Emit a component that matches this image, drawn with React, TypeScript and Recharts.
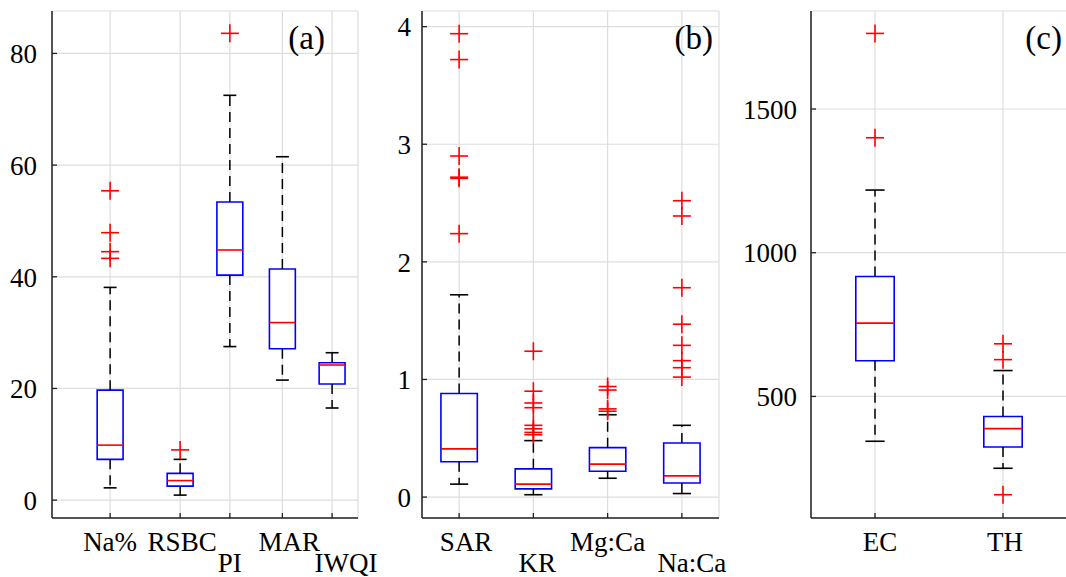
import React from 'react';
import { ComposedChart, XAxis, YAxis, CartesianGrid, ReferenceArea, ReferenceLine, Scatter } from 'recharts';

const FONT = 'Liberation Serif, Times New Roman, serif';

// ---------- Panel (a) ----------
const aCategories = ['Na%', 'RSBC', 'PI', 'MAR', 'IWQI'];
const aPositions = [1, 2, 2.71, 3.46, 4.17];
const aLow = [2.2, 0.9, 27.5, 21.5, 16.5];
const aQ1 = [7.3, 2.5, 40.3, 27.1, 20.8];
const aMedian = [9.85, 3.5, 44.8, 31.8, 24.2];
const aQ3 = [19.7, 4.8, 53.4, 41.4, 24.6];
const aHigh = [38.1, 7.3, 72.5, 61.5, 26.4];
const aOutliers = [[55.4, 47.9, 44.5, 43.3], [9.0], [83.6], [], []];
const aYTicks = [0, 20, 40, 60, 80];

// ---------- Panel (b) ----------
const bCategories = ['SAR', 'KR', 'Mg:Ca', 'Na:Ca'];
const bPositions = [1, 2, 3, 4];
const bLow = [0.11, 0.02, 0.16, 0.03];
const bQ1 = [0.3, 0.07, 0.22, 0.12];
const bMedian = [0.41, 0.11, 0.28, 0.18];
const bQ3 = [0.88, 0.24, 0.42, 0.46];
const bHigh = [1.72, 0.48, 0.7, 0.61];
const bOutliers = [
  [3.94, 3.72, 2.9, 2.72, 2.71, 2.24],
  [1.24, 0.9, 0.8, 0.76, 0.61, 0.58, 0.55, 0.53],
  [0.94, 0.91, 0.75, 0.73],
  [2.52, 2.39, 1.78, 1.47, 1.29, 1.16, 1.1, 1.02],
];
const bYTicks = [0, 1, 2, 3, 4];

// ---------- Panel (c) ----------
const cCategories = ['EC', 'TH'];
const cPositions = [1, 2];
const cLow = [344, 250];
const cQ1 = [624, 324];
const cMedian = [755, 388];
const cQ3 = [917, 430];
const cHigh = [1218, 590];
const cOutliers = [[1763, 1400], [683, 628, 158]];
const cYTicks = [500, 1000, 1500];

const FRAME = '#222';
const GRID = '#dedede';

type PanelProps = {
  categories: string[];
  positions: number[];
  low: number[];
  q1: number[];
  median: number[];
  q3: number[];
  high: number[];
  outliers: number[][];
  yTicks: number[];
  xDomain: [number, number];
  yDomain: [number, number];
  boxWidth: number;
  labelRows: number[];
  labelDx: number[];
  left: number;
  width: number;
  yAxisWidth: number;
  marginRight: number;
  tickGap: number;
  letter: string;
  letterX: number;
};

const textStyle = { fontFamily: FONT };

const Panel = (p: PanelProps) => {
  const height = 577;
  const outlierData: { x: number; y: number }[] = [];
  p.outliers.forEach((arr, i) => arr.forEach((v) => outlierData.push({ x: p.positions[i], y: v })));
  const hw = p.boxWidth / 2;
  const cw = p.boxWidth / 4;

  const LeftTick = (props: any) => {
    const { x, y, payload } = props;
    return (
      <g>
        <line x1={x + p.tickGap} x2={x + p.tickGap + 5} y1={y} y2={y} stroke={FRAME} strokeWidth={1.3} />
        <text x={x} y={y} dy="0.36em" textAnchor="end" style={textStyle} fontSize={27} fill="#000">
          {payload.value}
        </text>
      </g>
    );
  };
  const RightTick = (props: any) => {
    const { x, y } = props;
    return <line x1={x - 5} x2={x} y1={y} y2={y} stroke={FRAME} strokeWidth={1.3} />;
  };
  const TopTick = (props: any) => {
    const { x, y } = props;
    return <line x1={x} x2={x} y1={y} y2={y + 5} stroke={FRAME} strokeWidth={1.3} />;
  };
  const BottomTick = (props: any) => {
    const { x, y, index } = props;
    const row = p.labelRows[index] || 0;
    return (
      <g>
        <line x1={x} x2={x} y1={y} y2={y - 5} stroke={FRAME} strokeWidth={1.3} />
        <text
          x={x + (p.labelDx[index] || 0)}
          y={y + (row === 0 ? 33 : 54)}
          textAnchor="middle"
          style={textStyle}
          fontSize={27}
          fill="#000"
        >
          {p.categories[index]}
        </text>
      </g>
    );
  };

  const Plus = (props: any) => {
    const { cx, cy } = props;
    return (
      <g>
        <line x1={cx - 9} x2={cx + 9} y1={cy} y2={cy} stroke="#ff0000" strokeWidth={1.6} />
        <line x1={cx} x2={cx} y1={cy - 9} y2={cy + 9} stroke="#ff0000" strokeWidth={1.6} />
      </g>
    );
  };

  return (
    <div style={{ position: 'absolute', left: p.left, top: 0, width: p.width, height }}>
      <ComposedChart
        width={p.width}
        height={height}
        margin={{ top: 11, right: p.marginRight, left: 0, bottom: 0 }}
      >
        <CartesianGrid stroke={GRID} strokeWidth={1.2} />
        <XAxis
          type="number"
          dataKey="x"
          domain={p.xDomain}
          allowDataOverflow
          ticks={p.positions}
          height={59}
          tickSize={0}
          tickMargin={0}
          tickLine={false}
          axisLine={{ stroke: FRAME, strokeWidth: 1.5 }}
          tick={<BottomTick />}
          interval={0}
        />
        <XAxis
          xAxisId="t"
          orientation="top"
          type="number"
          domain={p.xDomain}
          allowDataOverflow
          ticks={p.positions}
          height={0}
          tickSize={0}
          tickMargin={0}
          tickLine={false}
          axisLine={{ stroke: FRAME, strokeWidth: 1.5 }}
          tick={<TopTick />}
          interval={0}
        />
        <YAxis
          type="number"
          dataKey="y"
          domain={p.yDomain}
          allowDataOverflow
          ticks={p.yTicks}
          width={p.yAxisWidth}
          tickSize={0}
          tickMargin={p.tickGap}
          tickLine={false}
          axisLine={{ stroke: FRAME, strokeWidth: 1.5 }}
          tick={<LeftTick />}
          interval={0}
        />
        <YAxis
          yAxisId="r"
          orientation="right"
          type="number"
          domain={p.yDomain}
          allowDataOverflow
          ticks={p.yTicks}
          width={0}
          tickSize={0}
          tickMargin={0}
          tickLine={false}
          axisLine={{ stroke: FRAME, strokeWidth: 1.5 }}
          tick={<RightTick />}
          interval={0}
        />
        {p.positions.map((x, i) => (
          <ReferenceLine
            key={'wu' + i}
            segment={[{ x, y: p.q3[i] }, { x, y: p.high[i] }]}
            stroke="#000"
            strokeWidth={1.5}
            strokeDasharray="10 6"
            ifOverflow="visible"
          />
        ))}
        {p.positions.map((x, i) => (
          <ReferenceLine
            key={'wl' + i}
            segment={[{ x, y: p.q1[i] }, { x, y: p.low[i] }]}
            stroke="#000"
            strokeWidth={1.5}
            strokeDasharray="10 6"
            ifOverflow="visible"
          />
        ))}
        {p.positions.map((x, i) => (
          <ReferenceLine
            key={'cu' + i}
            segment={[{ x: x - cw, y: p.high[i] }, { x: x + cw, y: p.high[i] }]}
            stroke="#000"
            strokeWidth={1.6}
            ifOverflow="visible"
          />
        ))}
        {p.positions.map((x, i) => (
          <ReferenceLine
            key={'cl' + i}
            segment={[{ x: x - cw, y: p.low[i] }, { x: x + cw, y: p.low[i] }]}
            stroke="#000"
            strokeWidth={1.6}
            ifOverflow="visible"
          />
        ))}
        {p.positions.map((x, i) => (
          <ReferenceArea
            key={'b' + i}
            x1={x - hw}
            x2={x + hw}
            y1={p.q1[i]}
            y2={p.q3[i]}
            fill="#ffffff"
            fillOpacity={1}
            stroke="#0000ff"
            strokeWidth={1.6}
            ifOverflow="visible"
          />
        ))}
        {p.positions.map((x, i) => (
          <ReferenceLine
            key={'m' + i}
            segment={[{ x: x - hw, y: p.median[i] }, { x: x + hw, y: p.median[i] }]}
            stroke="#ff0000"
            strokeWidth={1.6}
            ifOverflow="visible"
          />
        ))}
        <Scatter data={outlierData} shape={<Plus />} isAnimationActive={false} />
      </ComposedChart>
      <svg
        width={p.width}
        height={height}
        style={{ position: 'absolute', left: 0, top: 0, pointerEvents: 'none' }}
      >
        <text x={p.letterX} y={49} textAnchor="end" style={textStyle} fontSize={33} fill="#000">
          {p.letter}
        </text>
      </svg>
    </div>
  );
};

export default function App() {
  return (
    <div
      style={{
        position: 'absolute',
        left: 0,
        top: 0,
        width: 1066,
        height: 577,
        overflow: 'hidden',
        background: '#fff',
        fontFamily: FONT,
      }}
    >
      <Panel
        categories={aCategories}
        positions={aPositions}
        low={aLow}
        q1={aQ1}
        median={aMedian}
        q3={aQ3}
        high={aHigh}
        outliers={aOutliers}
        yTicks={aYTicks}
        xDomain={[0.17, 4.54]}
        yDomain={[-3.2, 87.6]}
        boxWidth={0.37}
        labelRows={[0, 0, 1, 0, 1]}
        labelDx={[0, 2, 0, 7, 14]}
        left={0}
        width={400}
        yAxisWidth={52}
        marginRight={42}
        tickGap={15}
        letter="(a)"
        letterX={325}
      />
      <Panel
        categories={bCategories}
        positions={bPositions}
        low={bLow}
        q1={bQ1}
        median={bMedian}
        q3={bQ3}
        high={bHigh}
        outliers={bOutliers}
        yTicks={bYTicks}
        xDomain={[0.5, 4.5]}
        yDomain={[-0.178, 4.133]}
        boxWidth={0.49}
        labelRows={[0, 1, 0, 1]}
        labelDx={[7, 4, 0, 10]}
        left={370}
        width={375}
        yAxisWidth={52}
        marginRight={26}
        tickGap={11}
        letter="(b)"
        letterX={343}
      />
      <Panel
        categories={cCategories}
        positions={cPositions}
        low={cLow}
        q1={cQ1}
        median={cMedian}
        q3={cQ3}
        high={cHigh}
        outliers={cOutliers}
        yTicks={cYTicks}
        xDomain={[0.5, 2.5]}
        yDomain={[77, 1841]}
        boxWidth={0.3}
        labelRows={[0, 0]}
        labelDx={[5, 2]}
        left={730}
        width={340}
        yAxisWidth={81}
        marginRight={3}
        tickGap={14}
        letter="(c)"
        letterX={332}
      />
    </div>
  );
}
